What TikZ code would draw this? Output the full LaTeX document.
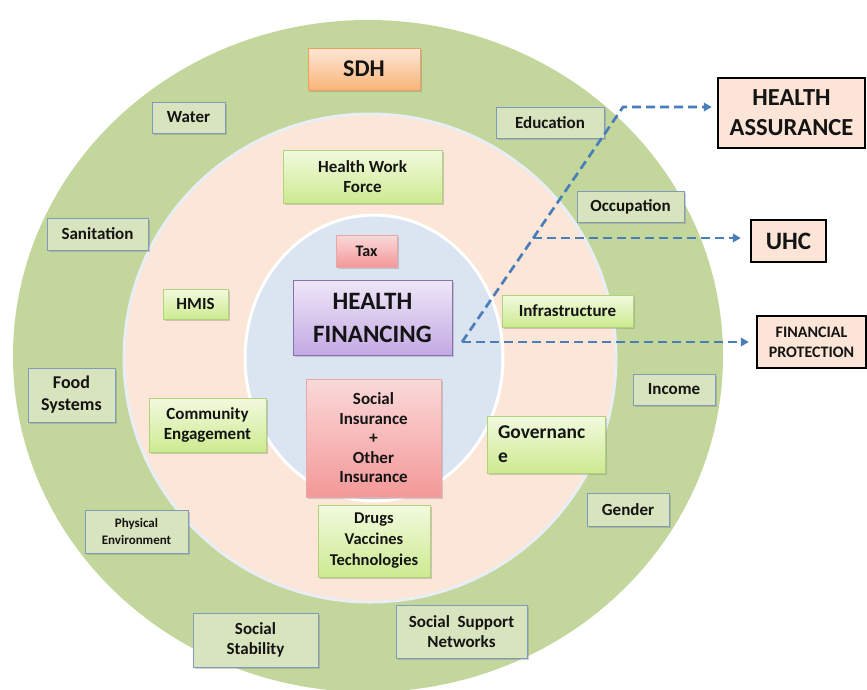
\documentclass[tikz,border=0pt]{standalone}
\usepackage{fontspec}
\setmainfont{Carlito}
\usetikzlibrary{shadows,arrows.meta,calc}
\definecolor{ringgreen}{HTML}{C3D69B}
\definecolor{ringpeach}{HTML}{FCE6D8}
\definecolor{ringblue}{HTML}{DBE5F1}
\definecolor{rim}{HTML}{E8EEF3}
\definecolor{txt}{HTML}{141414}
\definecolor{sdhfill}{HTML}{D7E4BD}
\definecolor{sdhline}{HTML}{7F9BBA}
\definecolor{hsTop}{HTML}{F2FADF}
\definecolor{hsBot}{HTML}{CDEA90}
\definecolor{hsLine}{HTML}{B0D27A}
\definecolor{pkTop}{HTML}{FBD9D9}
\definecolor{pkBot}{HTML}{F39898}
\definecolor{pkLine}{HTML}{E8A8A8}
\definecolor{puTop}{HTML}{EFE7F8}
\definecolor{puBot}{HTML}{C3A9E3}
\definecolor{puLine}{HTML}{8A70AE}
\definecolor{orTop}{HTML}{FDE7D6}
\definecolor{orBot}{HTML}{F9B478}
\definecolor{orLine}{HTML}{EFA05A}
\definecolor{outFill}{HTML}{FCE4D6}
\definecolor{dashblue}{HTML}{4A7EBB}
\tikzset{
  wh/.style 2 args={minimum width=#1pt, minimum height=#2pt},
  fsz/.style 2 args={font=\bfseries\fontsize{#1}{#2}\selectfont},
  base/.style={inner sep=0pt, text=txt, align=center, fsz={17}{20.5}},
  shad/.style={drop shadow={opacity=0.35, shadow xshift=1.5pt, shadow yshift=-1.8pt}},
  sdhbox/.style={base, shad, fill=sdhfill, draw=sdhline, line width=0.8pt},
  hsbox/.style={base, shad, top color=hsTop, bottom color=hsBot, draw=hsLine, line width=0.8pt},
  pinkbox/.style={base, shad, top color=pkTop, bottom color=pkBot, draw=pkLine, line width=0.8pt},
  purplebox/.style={base, shad, top color=puTop, bottom color=puBot, draw=puLine, line width=0.9pt},
  orangebox/.style={base, shad, top color=orTop, bottom color=orBot, draw=orLine, line width=0.9pt},
  outbox/.style={base, fill=outFill, draw=black, line width=2.4pt},
  dashline/.style={draw=dashblue, line width=2.7pt, dash pattern=on 9pt off 5pt},
  arr/.style={-{Triangle[length=8pt,width=8.5pt]}}
}
\begin{document}
\begin{tikzpicture}[x=1pt,y=-1pt]
\useasboundingbox (0,0) rectangle (867,689);
\clip (0,0) rectangle (867,689);
\fill[white] (0,0) rectangle (867,689);
% rings
\fill[ringgreen] (368,356) ellipse [x radius=355pt, y radius=336pt];
\filldraw[fill=ringpeach, draw=rim, line width=3pt] (370,358) ellipse [x radius=246pt, y radius=244pt];
\filldraw[fill=ringblue, draw=white, line width=3pt] (374,358) ellipse [x radius=129pt, y radius=143pt];

% outer ring (SDH) boxes
\node[orangebox, wh={112}{42}, fsz={24}{28}] (sdh) at (364,69) {SDH};
\node[sdhbox, wh={73}{31}] (water) at (188.5,117.5) {Water};
\node[sdhbox, wh={101}{32}] (sanit) at (97.5,234) {Sanitation};
\node[sdhbox, wh={87}{54}, fsz={18}{22}] (food) at (71.5,395) {Food\\Systems};
\node[sdhbox, wh={103}{43}, fsz={13}{17}] (phys) at (136.5,531.5) {Physical\\Environment};
\node[sdhbox, wh={125}{54}] (stab) at (255.5,640) {Social\\Stability};
\node[sdhbox, wh={131}{53}] (ssn) at (461.5,631.5) {Social~ Support\\Networks};
\node[sdhbox, wh={82}{33}] (gender) at (628,509.5) {Gender};
\node[sdhbox, wh={82}{31}] (income) at (674,389.5) {Income};
\node[sdhbox, wh={107}{31}] (occ) at (630.5,206.5) {Occupation};
\node[sdhbox, wh={108}{31}] (edu) at (550,122.5) {Education};

% health system boxes
\node[hsbox, wh={159}{53}] (hwf) at (362.5,176.5) {Health Work\\Force};
\node[hsbox, wh={65}{30}] (hmis) at (195.5,304) {HMIS};
\node[hsbox, wh={117}{54}] (comm) at (207.5,425) {Community\\Engagement};
\node[hsbox, wh={112}{72}, fsz={16.5}{21}] (drugs) at (374,541) {Drugs\\Vaccines\\Technologies};
\node[hsbox, wh={118}{57}, fsz={19.5}{24}, text width=96pt, align=left] (gov) at (546,444.5) {Governanc\\e};
\node[hsbox, wh={131}{32}] (infra) at (567.5,311) {Infrastructure};

% financing boxes
\node[pinkbox, wh={61}{32}, fsz={16}{19}] (tax) at (366.5,251) {Tax};
\node[purplebox, wh={159}{75}, fsz={25}{33}] (hf) at (372.5,317.5) {HEALTH\\FINANCING};
\node[pinkbox, wh={135}{118}, fsz={17}{19.5}] (ins) at (373.5,438) {Social\\Insurance\\+\\Other\\Insurance};

% outcome boxes
\node[outbox, wh={147}{70}, fsz={24.5}{30}] (ha) at (791.5,113) {HEALTH\\ASSURANCE};
\node[outbox, wh={75}{42}, fsz={25}{30}] (uhc) at (788.5,241) {UHC};
\node[outbox, wh={109}{52}, fsz={16}{20}] (fp) at (811.5,342) {FINANCIAL\\PROTECTION};

% connectors
\coordinate (A) at (462,342);
\coordinate (B) at (623,107);
\coordinate (M) at ($(A)!0.4426!(B)$);
\draw[dashline, arr, shorten >=5pt] (A) -- (B) -- (B -| ha.west);
\draw[dashline, arr, shorten >=9pt] (M) -- (M -| uhc.west);
\draw[dashline, arr, shorten >=7pt] (A) -- (A -| fp.west);
\end{tikzpicture}
\end{document}
